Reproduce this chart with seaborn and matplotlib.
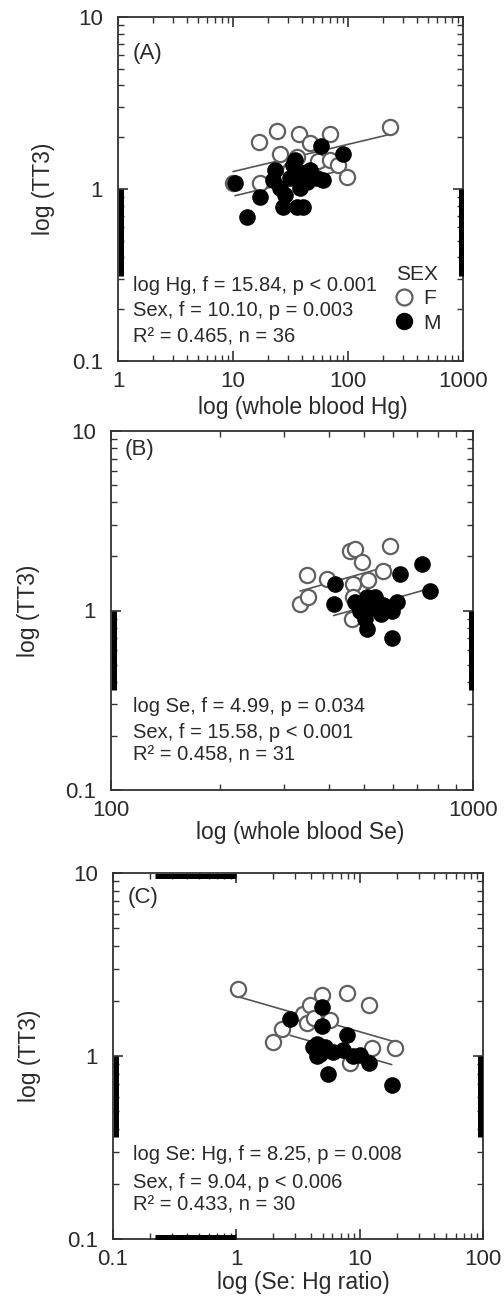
import numpy as np
import pandas as pd
import matplotlib
matplotlib.use("Agg")
import matplotlib.pyplot as plt
from matplotlib.ticker import FixedLocator, FixedFormatter, LogLocator, NullFormatter
from matplotlib.lines import Line2D
import seaborn as sns

# ---------------- data ----------------
# Panel A: whole blood Hg vs TT3
hg_f = [10.0, 16.8, 17.2, 24.1, 25.6, 31.0, 36.0, 37.5, 46.8, 55.0, 69.7, 70.0, 81.9, 98.0, 232.0]
tt3_hg_f = [1.08, 1.87, 1.08, 2.17, 1.60, 1.29, 1.53, 2.09, 1.85, 1.46, 2.09, 1.47, 1.38, 1.17, 2.29]
hg_m = [10.4, 13.2, 17.2, 22.3, 23.2, 25.6, 27.2, 28.3, 31.3, 33.3, 34.5, 36.0, 38.3, 38.3, 41.0,
        44.0, 46.6, 53.7, 58.2, 60.7, 90.5]
tt3_hg_m = [1.08, 0.687, 0.90, 1.13, 1.29, 1.01, 0.785, 0.92, 1.16, 1.38, 1.47, 0.785, 1.26, 1.01,
            0.785, 1.10, 1.29, 1.16, 1.78, 1.13, 1.60]

# Panel B: whole blood Se vs TT3
se_f = [333, 351, 347, 394, 457, 472, 494, 590, 565, 466, 513, 466, 462]
tt3_se_f = [1.09, 1.19, 1.58, 1.49, 2.15, 2.20, 1.86, 2.30, 1.67, 1.41, 1.47, 1.19, 0.90]
se_m = [416, 412, 472, 503, 509, 536, 542, 565, 596, 615, 596, 629, 721, 761, 488, 519, 509, 557]
tt3_se_m = [1.41, 1.09, 1.11, 0.90, 0.79, 1.19, 1.02, 1.07, 1.00, 1.11, 0.70, 1.60, 1.82, 1.29,
            1.00, 1.04, 1.19, 0.96]

# Panel C: Se:Hg ratio vs TT3
ratio_f = [1.04, 2.0, 2.34, 3.49, 3.96, 3.72, 4.93, 5.75, 7.86, 11.8, 8.36, 12.5, 19.4, 4.3]
tt3_ratio_f = [2.31, 1.20, 1.40, 1.70, 1.90, 1.51, 2.15, 1.57, 2.22, 1.90, 0.91, 1.10, 1.10, 1.62]
ratio_m = [2.73, 4.93, 4.93, 4.49, 4.77, 5.24, 4.49, 5.57, 7.86, 7.35, 8.9, 10.1, 11.8, 18.2, 6.1, 4.2]
tt3_ratio_m = [1.59, 1.86, 1.45, 1.17, 1.03, 1.12, 1.00, 0.80, 1.30, 1.08, 1.00, 1.01, 0.92, 0.69,
               1.05, 1.12]

panel_labels = ["(A)", "(B)", "(C)"]
x_labels = ["log (whole blood Hg)", "log (whole blood Se)", "log (Se: Hg ratio)"]
y_label = "log (TT3)"
x_ticks = [[1, 10, 100, 1000], [100, 1000], [0.1, 1, 10, 100]]
x_ticklabels = [["1", "10", "100", "1000"], ["100", "1000"], ["0.1", "1", "10", "100"]]
y_ticks = [0.1, 1, 10]
y_ticklabels = ["0.1", "1", "10"]
stats_text = [
    ["log Hg, f = 15.84, p < 0.001", "Sex, f = 10.10, p = 0.003", "R\u00b2 = 0.465, n = 36"],
    ["log Se, f = 4.99, p = 0.034", "Sex, f = 15.58, p < 0.001", "R\u00b2 = 0.458, n = 31"],
    ["log Se: Hg, f = 8.25, p = 0.008", "Sex, f = 9.04, p < 0.006", "R\u00b2 = 0.433, n = 30"],
]
sex_levels = ["F", "M"]

# ---------------- style ----------------
sns.set_theme(style="ticks")
plt.rcParams["font.family"] = ["Liberation Sans", "DejaVu Sans"]
TXT = "#2a2a2a"
SPINE = "#333333"

fig = plt.figure(figsize=(5.04, 13.05), dpi=100)
W, H = 504, 1305
boxes = [(118, 463, 17, 361), (111, 473, 431, 790), (113, 483, 873, 1239)]  # l, r, t, b (px)
data = [
    (hg_f, tt3_hg_f, hg_m, tt3_hg_m),
    (se_f, tt3_se_f, se_m, tt3_se_m),
    (ratio_f, tt3_ratio_f, ratio_m, tt3_ratio_m),
]
ylabel_px = [44, 29, 29]
xlabel_px = [(303, 408), (300, 832), (303, 1282)]
stats_px = [(133, [286, 311, 337]), (133, [707, 732, 755]), (133, [1155, 1182, 1205])]
label_px = [(147, 53), (140, 450), (143, 897)]
thick_y = [(0.31, 1.0), (0.36, 1.0), (0.36, 1.0)]

for i, (l, r, t, b) in enumerate(boxes):
    aw, ah = r - l, b - t
    ax = fig.add_axes([l / W, 1 - b / H, aw / W, ah / H])
    fx = lambda px: (px - l) / aw
    fy = lambda py: (b - py) / ah
    xf, yf, xm, ym = data[i]
    df = pd.DataFrame({
        "x": list(xf) + list(xm),
        "y": list(yf) + list(ym),
        "sex": ["F"] * len(xf) + ["M"] * len(xm),
    })
    ax.set_xscale("log")
    ax.set_yscale("log")

    # regression: log TT3 ~ log X + Sex (common slope)
    lx, ly = np.log10(df.x.values), np.log10(df.y.values)
    isf = (df.sex.values == "F").astype(float)
    X = np.column_stack([np.ones_like(lx), lx, isf])
    coef, *_ = np.linalg.lstsq(X, ly, rcond=None)
    for s in sex_levels:
        sub = df[df.sex == s]
        xs = np.array([sub.x.min(), sub.x.max()])
        yy = coef[0] + coef[1] * np.log10(xs) + coef[2] * (s == "F")
        ax.plot(xs, 10 ** yy, color="#555555", lw=1.2, zorder=2)

    sns.scatterplot(data=df[df.sex == "F"], x="x", y="y", ax=ax, s=120, marker="o",
                    facecolor="white", edgecolor="#606060", linewidth=1.6, zorder=3, legend=False)
    sns.scatterplot(data=df[df.sex == "M"], x="x", y="y", ax=ax, s=120, marker="o",
                    color="black", edgecolor="black", linewidth=1.0, zorder=4, legend=False)

    ax.set_xlim(x_ticks[i][0], x_ticks[i][-1])
    ax.set_ylim(y_ticks[0], y_ticks[-1])
    ax.xaxis.set_major_locator(FixedLocator(x_ticks[i]))
    ax.xaxis.set_major_formatter(FixedFormatter(x_ticklabels[i]))
    ax.yaxis.set_major_locator(FixedLocator(y_ticks))
    ax.yaxis.set_major_formatter(FixedFormatter(y_ticklabels))
    ax.xaxis.set_minor_locator(LogLocator(base=10, subs=np.arange(2, 10), numticks=20))
    ax.yaxis.set_minor_locator(LogLocator(base=10, subs=np.arange(2, 10), numticks=20))
    ax.xaxis.set_minor_formatter(NullFormatter())
    ax.yaxis.set_minor_formatter(NullFormatter())
    ax.tick_params(which="both", direction="in", top=True, right=True, color=SPINE)
    ax.tick_params(which="major", length=7, width=1.2, labelsize=16, labelcolor=TXT)
    ax.tick_params(axis="y", which="major", pad=11)
    ax.tick_params(axis="x", which="major", pad=7)
    ax.tick_params(which="minor", length=4, width=1.0)
    for sp in ax.spines.values():
        sp.set_linewidth(1.3)
        sp.set_color(SPINE)

    ax.set_xlabel(x_labels[i], fontsize=16.5, color=TXT)
    ax.set_ylabel(y_label, fontsize=16.5, color=TXT)
    ax.xaxis.set_label_coords(fx(xlabel_px[i][0]), fy(xlabel_px[i][1]))
    ax.xaxis.label.set_va("center")
    ax.yaxis.set_label_coords(fx(ylabel_px[i]), 0.5)
    ax.yaxis.label.set_va("center")

    ax.text(fx(label_px[i][0]), fy(label_px[i][1]), panel_labels[i], transform=ax.transAxes,
            fontsize=16, color=TXT, ha="center", va="center")
    sx, sys_ = stats_px[i]
    for line, yy in zip(stats_text[i], sys_):
        ax.text(fx(sx), fy(yy), line, transform=ax.transAxes, fontsize=14.5, color=TXT,
                ha="left", va="center")

    # thick inner spine segments seen in the reference
    lo, hi = thick_y[i]
    for xx in (2.5 / aw, 1 - 2.5 / aw):
        ax.plot([xx, xx], [lo, hi], transform=ax.get_yaxis_transform(), color="black",
                lw=3.6, clip_on=False, solid_capstyle="butt", zorder=5)
    if i == 2:
        for yy in (2.5 / ah, 1 - 2.5 / ah):
            ax.plot([0.22, 1.0], [yy, yy], transform=ax.get_xaxis_transform(), color="black",
                    lw=3.6, clip_on=False, solid_capstyle="butt", zorder=5)

    if i == 0:
        handles = [
            Line2D([], [], ls="none", marker="o", markersize=11.5, markerfacecolor="white",
                   markeredgecolor="#606060", markeredgewidth=1.6, label="F"),
            Line2D([], [], ls="none", marker="o", markersize=11.5, markerfacecolor="black",
                   markeredgecolor="black", label="M"),
        ]
        leg = ax.legend(handles=handles, title="SEX", loc="center",
                        bbox_to_anchor=(fx(417), fy(299)), frameon=False, fontsize=15,
                        title_fontsize=15, handletextpad=0.4, labelspacing=0.25,
                        borderaxespad=0.0, borderpad=0.0, handlelength=1.0)
        for t_ in leg.get_texts():
            t_.set_color(TXT)
        leg.get_title().set_color(TXT)

fig.savefig("out.png", dpi=100)
